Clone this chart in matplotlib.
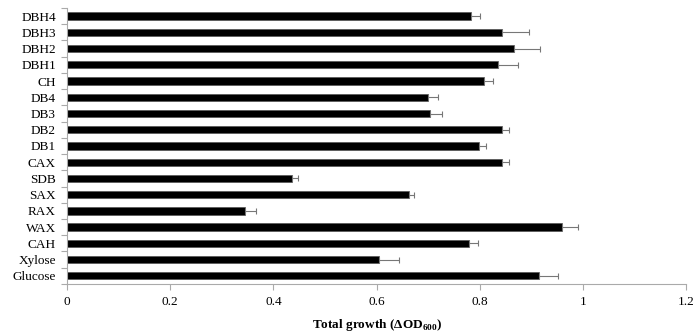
import numpy as np
import matplotlib
matplotlib.use('Agg')
import matplotlib.pyplot as plt

plt.rcParams['font.family'] = ['Liberation Serif', 'DejaVu Serif']
plt.rcParams['mathtext.fontset'] = 'custom'
plt.rcParams['mathtext.rm'] = 'Liberation Serif'
plt.rcParams['mathtext.bf'] = 'Liberation Serif:bold'

# bottom to top
labels = ['Glucose', 'Xylose', 'CAH', 'WAX', 'RAX', 'SAX', 'SDB', 'CAX',
          'DB1', 'DB2', 'DB3', 'DB4', 'CH', 'DBH1', 'DBH2', 'DBH3', 'DBH4']
growth = [0.915, 0.605, 0.780, 0.959, 0.345, 0.662, 0.436, 0.843,
          0.798, 0.844, 0.704, 0.700, 0.808, 0.835, 0.866, 0.843, 0.783]
err = [0.036, 0.038, 0.016, 0.031, 0.021, 0.011, 0.012, 0.014,
       0.014, 0.013, 0.023, 0.019, 0.018, 0.039, 0.051, 0.052, 0.017]

fig = plt.figure(figsize=(6.98, 3.34), dpi=100)
ax = fig.add_axes([0.096, 0.150, 0.887, 0.826])

y = np.arange(len(labels))
ax.barh(y, growth, height=0.45, color='black', edgecolor='#555555', linewidth=0.5,
        xerr=[np.zeros(len(err)), err],
        error_kw=dict(ecolor='#777777', elinewidth=0.8, capsize=2.5, capthick=0.8))

ax.set_xlim(0, 1.2)
ax.set_ylim(-0.5, len(labels) - 0.5)
ax.set_xticks(np.arange(0, 1.21, 0.2))
ax.set_xticklabels(['0', '0.2', '0.4', '0.6', '0.8', '1', '1.2'])
ax.set_yticks(y)
ax.set_yticklabels(labels)
ax.set_yticks(np.arange(-0.5, len(labels), 1), minor=True)
ax.tick_params(axis='y', which='major', length=0, pad=8, labelsize=9.5)
ax.tick_params(axis='y', which='minor', length=4, color='#aaaaaa', width=0.8)
ax.tick_params(axis='x', which='major', length=4, color='#aaaaaa', width=0.8,
               labelsize=9.5, pad=5)

for s in ['top', 'right']:
    ax.spines[s].set_visible(False)
for s in ['left', 'bottom']:
    ax.spines[s].set_color('#aaaaaa')
    ax.spines[s].set_linewidth(0.8)

ax.set_xlabel('Total growth (ΔOD$_{\\mathbf{600}}$)', fontweight='bold',
              fontsize=9.5, labelpad=6)

fig.savefig('out.png', dpi=100)
